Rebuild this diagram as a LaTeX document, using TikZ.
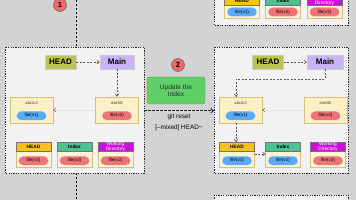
\documentclass[tikz,border=0pt]{standalone}
\usepackage{fontspec}
\setmainfont{Liberation Sans}
\usetikzlibrary{arrows.meta,shapes.misc}
\definecolor{bggray}{HTML}{D3D3D3}
\definecolor{panelbg}{HTML}{F2F2F2}
\definecolor{headolive}{HTML}{B8C651}
\definecolor{mainlav}{HTML}{C6B4F6}
\definecolor{updgreen}{HTML}{60CF66}
\definecolor{circred}{HTML}{EE6A6A}
\definecolor{commitbg}{HTML}{FDF0C6}
\definecolor{commitbd}{HTML}{D8C07A}
\definecolor{hdryellow}{HTML}{F7C21B}
\definecolor{hdrgreen}{HTML}{4CC293}
\definecolor{hdrpurple}{HTML}{CC11DD}
\definecolor{pillblue}{HTML}{5AABF7}
\definecolor{pillred}{HTML}{F07375}
\definecolor{bodybg}{HTML}{FDF5D6}
\newcommand\mystate[9]{%
  \node[bodybox, minimum height=#9, anchor=north] (#1) at (#2,#3) {};
  \node[hdrbox, fill=#4, text=#6, anchor=north] (#1h) at (#1.north) {#5};
  \node[pill, fill=#7] (#1p) at ([yshift=6.7pt]#1.south) {#8};
}
\newcommand\mycommit[6]{%
  \node[commitbox] (#1) at (#2,#3) {};
  \node[hashtxt] (#1t) at ([yshift=-6pt]#1.north) {#4};
  \node[pill, fill=#5] (#1p) at ([yshift=7.5pt]#1.south) {#6};
}
\begin{document}
\begin{tikzpicture}[x=1pt,y=-1pt,
  panel/.style={draw=black!85, dash pattern=on 1.2pt off 1.2pt, line width=0.9pt, fill=panelbg},
  refbox/.style={draw=black!20, line width=0.4pt, minimum height=14, minimum width=31, inner sep=0, font=\bfseries\fontsize{8}{9}\selectfont},
  conn/.style={draw=black!65, dash pattern=on 2pt off 1.5pt, line width=0.6pt, -{Straight Barb[length=2.2pt,width=3.5pt]}},
  faint/.style={draw=black!12, line width=0.4pt, -{Straight Barb[length=2.2pt,width=3.5pt,color=black!70]}},
  bodybox/.style={draw=commitbd, line width=0.4pt, fill=bodybg, minimum width=35, inner sep=0},
  hdrbox/.style={draw=black!55, line width=0.4pt, minimum width=35, minimum height=8.7, inner sep=0, align=center, font=\bfseries\fontsize{4.8}{5}\selectfont},
  pill/.style={rounded rectangle, draw=black!10, line width=0.3pt, minimum width=30, minimum height=9, inner sep=0, font=\fontsize{4.6}{5}\selectfont},
  commitbox/.style={draw=commitbd, line width=0.5pt, fill=commitbg, minimum width=43, minimum height=26, inner sep=0},
  hashtxt/.style={font=\fontsize{3.8}{4}\selectfont, inner sep=0, text=black!80},
  badge/.style={circle, draw=black!60, line width=0.5pt, fill=circred, minimum size=13, inner sep=0, font=\bfseries\fontsize{7.5}{8}\selectfont}
]
\fill[bggray] (0,0) rectangle (356,200);
\useasboundingbox (0,0) rectangle (356,200);

% panels
\draw[panel] (5,47) rectangle (144,173);
\draw[panel] (214,-10) rectangle (348,25);
\draw[panel] (214,47) rectangle (348,173);
\draw[panel] (214,195) rectangle (348,215);

% timeline
\coordinate (t0) at (76.5,0);
\coordinate (t1) at (76.5,47);
\coordinate (t2) at (76.5,173);
\coordinate (t3) at (76.5,200);
\draw[black, dash pattern=on 2.5pt off 1.5pt, line width=0.8pt] (t0) -- (t1) (t2) -- (t3);
\node[badge] (b1) at (60,5) {1};

% top-right panel (previous state)
\mystate{ta}{242}{-3.7}{hdryellow}{HEAD}{black}{pillblue}{file(v1)}{22}
\mystate{tb}{283}{-3.7}{hdrgreen}{Index}{black}{pillred}{file(v2)}{22}
\mystate{tc}{324.5}{-3.7}{hdrpurple}{\mdseries Working\\[-0.3pt]\mdseries Directory}{white}{pillred}{file(v2)}{22}

% left panel
\node[refbox, fill=headolive] (lhead) at (60.5,62) {HEAD};
\node[refbox, fill=mainlav, minimum width=34] (lmain) at (117,62) {Main};
\mycommit{lc1}{31.5}{110}{a1b2c3}{pillblue}{file(v1)}
\mycommit{lc2}{117}{110}{d4e5f6}{pillred}{file(v2)}
\draw[conn] (lhead) -- (lmain);
\draw[conn] (lmain) -- (lc2);
\draw[faint] (lc2) -- (lc1);
\mystate{la}{33.5}{142}{hdryellow}{HEAD}{black}{pillred}{file(v2)}{25}
\mystate{lb}{74.5}{142}{hdrgreen}{Index}{black}{pillred}{file(v2)}{25}
\mystate{lw}{115.5}{142}{hdrpurple}{\mdseries Working\\[-0.3pt]\mdseries Directory}{white}{pillred}{file(v2)}{25}

% middle step
\node[badge] (b2) at (178,65) {2};
\node[draw=updgreen!80!black, line width=0.4pt, fill=updgreen, rounded corners=2.5pt, minimum width=58, minimum height=27, align=center, font=\fontsize{6.6}{7.4}\selectfont, text=black!85] (upd) at (176,90.5) {Update the\\Index};
\coordinate (a0) at (144,110.7);
\coordinate (a1) at (214,110.7);
\draw[black!85, dash pattern=on 2.5pt off 1.5pt, line width=0.8pt, -{Straight Barb[length=2.8pt,width=5pt]}] (a0) -- (a1);
\node[align=center, font=\fontsize{6.4}{10.5}\selectfont, inner sep=0] (lbl) at (179,122.5) {git reset\\{[--mixed]} HEAD\textasciitilde};

% right panel
\node[refbox, fill=headolive] (rhead) at (268,62) {HEAD};
\node[refbox, fill=mainlav, minimum width=36] (rmain) at (325,62) {Main};
\mycommit{rc1}{240.5}{110}{a1b2c3}{pillblue}{file(v1)}
\mycommit{rc2}{325.5}{110}{d4e5f6}{pillred}{file(v2)}
\draw[conn] (rhead) -- (rmain);
\coordinate (rbend) at (236,79);
\draw[conn] (rmain.south) |- (rbend) -- (rbend |- rc1.north);
\draw[faint] (rc2) -- (rc1);
\mystate{ra}{237}{142}{hdryellow}{HEAD}{black}{pillblue}{file(v1)}{25}
\mystate{rb}{283}{142}{hdrgreen}{Index}{black}{pillblue}{file(v1)}{25}
\mystate{rw}{328}{142}{hdrpurple}{\mdseries Working\\[-0.3pt]\mdseries Directory}{white}{pillred}{file(v2)}{25}
\draw[conn] (rbend |- rc1.south) -- (rbend |- ra.north);
\draw[conn] (ra.east |- 0,154) -- (rb.west |- 0,154);
\end{tikzpicture}
\end{document}
